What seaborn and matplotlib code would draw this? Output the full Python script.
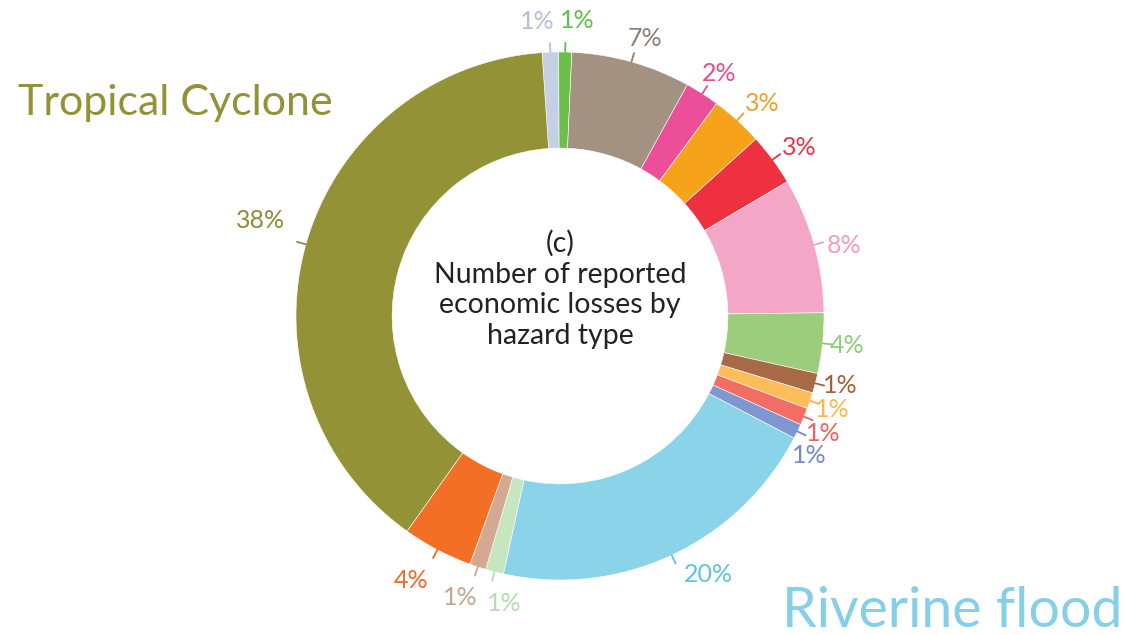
import numpy as np
import seaborn as sns
import matplotlib.pyplot as plt

# share of each hazard slice (read clockwise from the top of the ring)
shares = [1.0, 0.8, 7.3, 2.1, 3.2, 3.2, 8.3, 3.7, 1.2, 1.0, 1.05, 0.9,
          20.8, 1.1, 1.0, 4.3, 39.1]
labels = ['1%', '1%', '7%', '2%', '3%', '3%', '8%', '4%', '1%', '1%', '1%', '1%',
          '20%', '1%', '1%', '4%', '38%']
wedge_colors = ['#c5cfe6', '#6cc04a', '#a39281', '#ec4f9a', '#f7a21b', '#ee3140',
                '#f4a6c7', '#9ccd7c', '#a86a46', '#fdbd59', '#f26e64', '#7f96d0',
                '#8bd3e8', '#c6e6c0', '#d4a994', '#f26f25', '#939236']
text_colors = ['#b5bfdc', '#5fbf4a', '#8f8174', '#e64c96', '#f0a02a', '#e8334a',
               '#f19cc0', '#8fcb7a', '#a0623e', '#fbb84e', '#f0625c', '#7688c8',
               '#5cc4e2', '#b6dcb0', '#c9a493', '#ec6a2c', '#8d8c38']
center_title = '(c)\nNumber of reported\neconomic losses by\nhazard type'

sns.set_theme(style='white')
plt.rcParams['font.family'] = ['Lato', 'DejaVu Sans']

fig = plt.figure(figsize=(11.27, 6.35), dpi=100)
R = 264
cx, cy = 560, 635 - 316
ax = fig.add_axes([(cx - 1.3 * R) / 1127, (cy - 1.3 * R) / 635, 2.6 * R / 1127, 2.6 * R / 635])

wedges, _ = ax.pie(shares, colors=wedge_colors, startangle=93.9, counterclock=False,
                   radius=1.0, wedgeprops=dict(width=0.364, edgecolor='white', linewidth=0.4))
ax.set_xlim(-1.3, 1.3)
ax.set_ylim(-1.3, 1.3)
ax.axis('off')

# small per-label nudges (degrees, clockwise) and label radius
nudge = [-2.3, 2.2, 1.3, 0.7, 1.5, 1.2, 1.7, 0, -0.8, 0.3, 1.6, 3.3,
         -4.8, -3.3, 1.4, 1.8, 2.0]
rad = [1.12, 1.12, 1.1, 1.1, 1.11, 1.11, 1.11, 1.095, 1.095, 1.09, 1.09, 1.08,
       1.13, 1.11, 1.13, 1.15, 1.19]

for w, lab, col, dn, r in zip(wedges, labels, text_colors, nudge, rad):
    mid = np.deg2rad((w.theta1 + w.theta2) / 2)
    ax.plot([np.cos(mid) * 1.0, np.cos(mid) * 1.035], [np.sin(mid) * 1.0, np.sin(mid) * 1.035],
            color=col, lw=1.3)
    t = mid - np.deg2rad(dn)
    ax.text(np.cos(t) * r, np.sin(t) * r, lab, color=col, fontsize=18,
            ha='center', va='center')

ax.text(0, 0.1, center_title, ha='center', va='center', fontsize=20.5,
        color='#222222', linespacing=1.22)

fig.text(18 / 1127, 1 - 103 / 635, 'Tropical Cyclone', color='#939236',
         fontsize=31, ha='left', va='center')
fig.text(1122 / 1127, 8 / 635, 'Riverine flood', color='#86cfe8',
         fontsize=40, ha='right', va='baseline')

fig.savefig('out.png', dpi=100, facecolor='white')
